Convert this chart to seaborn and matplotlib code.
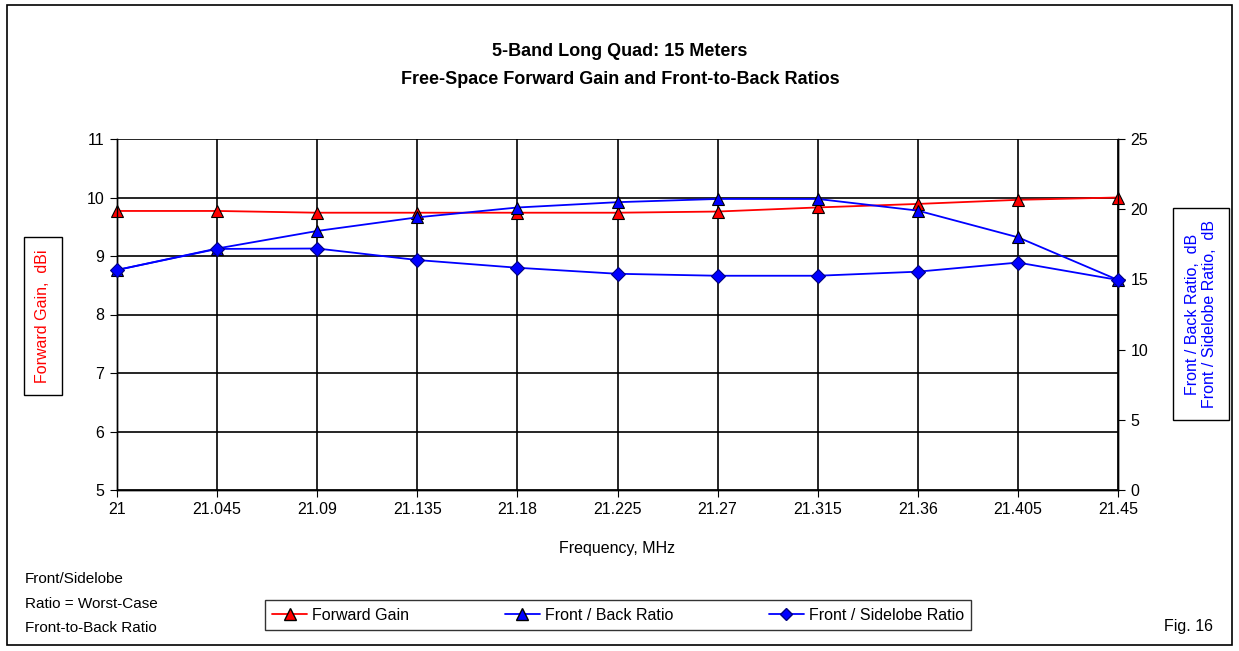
import matplotlib
matplotlib.use("Agg")
import matplotlib.pyplot as plt
import seaborn as sns
import pandas as pd
from matplotlib.patches import Rectangle
from matplotlib.lines import Line2D

freq_labels = ["21", "21.045", "21.09", "21.135", "21.18", "21.225",
               "21.27", "21.315", "21.36", "21.405", "21.45"]
forward_gain = [9.77, 9.77, 9.74, 9.74, 9.74, 9.74, 9.76, 9.83, 9.89, 9.96, 10.0]
front_back = [15.67, 17.2, 18.45, 19.42, 20.12, 20.5, 20.73, 20.73, 19.9, 18.0, 14.96]
front_side = [15.67, 17.17, 17.2, 16.38, 15.83, 15.4, 15.26, 15.26, 15.55, 16.2, 14.96]

sns.set_style("white")
plt.rcParams['font.family'] = ['Liberation Sans', 'DejaVu Sans']
plt.rcParams['text.color'] = 'black'

freqs = [float(f) for f in freq_labels]
df = pd.DataFrame({"freq": freqs, "fg": forward_gain, "fb": front_back, "fs": front_side})

fig = plt.figure(figsize=(12.39, 6.51), dpi=100)
fig.patch.set_facecolor("white")
fig.add_artist(Rectangle((7/1239, 1 - 645/651), 1225/1239, 640/651, transform=fig.transFigure,
                         fill=False, edgecolor="black", linewidth=1.2))

ax = fig.add_axes([117/1239, 1 - 490/651, (1118-117)/1239, (490-139)/651])
ax2 = ax.twinx()

sns.lineplot(data=df, x="freq", y="fg", ax=ax, color="red", linewidth=1.3,
             marker="^", markersize=9, markerfacecolor="red", markeredgecolor="black",
             markeredgewidth=0.8, zorder=5, clip_on=False)
sns.lineplot(data=df, x="freq", y="fb", ax=ax2, color="blue", linewidth=1.3,
             marker="^", markersize=9, markerfacecolor="blue", markeredgecolor="black",
             markeredgewidth=0.8, zorder=5, clip_on=False)
sns.lineplot(data=df, x="freq", y="fs", ax=ax2, color="blue", linewidth=1.3,
             marker="D", markersize=7, markerfacecolor="blue", markeredgecolor="navy",
             markeredgewidth=0.8, zorder=5, clip_on=False)

ax.set_xlim(freqs[0], freqs[-1])
ax.set_ylim(5, 11)
ax2.set_ylim(0, 25)
ax.set_xticks(freqs)
ax.set_xticklabels(freq_labels)
ax.set_yticks(range(5, 12))
ax2.set_yticks(range(0, 26, 5))
ax.grid(True, color="black", linewidth=1.2)
ax2.grid(False)
for a in (ax, ax2):
    for s in a.spines.values():
        s.set_color("black")
        s.set_linewidth(1.0)
    a.set_xlabel("")
    a.set_ylabel("")
ax.spines["top"].set_visible(False)
ax2.spines["top"].set_visible(False)
ax.tick_params(axis="both", which="both", direction="out", length=5, labelsize=11.5,
               colors="black", labelcolor="black", left=True, bottom=True, pad=4)
ax2.tick_params(axis="y", direction="out", length=5, labelsize=11.5, colors="black",
                labelcolor="black", right=True, pad=4)
ax.set_axisbelow(True)

fig.text(620/1239, 1 - 52/651, "5-Band Long Quad: 15 Meters", ha="center", va="center",
         fontsize=13, fontweight="bold", color="black")
fig.text(620/1239, 1 - 80/651, "Free-Space Forward Gain and Front-to-Back Ratios", ha="center",
         va="center", fontsize=13, fontweight="bold", color="black")
fig.text(617/1239, 1 - 549/651, "Frequency, MHz", ha="center", va="center", fontsize=11.5,
         color="black")

fig.text(43/1239, 1 - 316/651, "Forward Gain,  dBi", rotation=90, ha="center", va="center",
         fontsize=11.5, color="red",
         bbox=dict(boxstyle="square,pad=0.75", facecolor="white", edgecolor="black", linewidth=1))
fig.text(1201/1239, 1 - 314/651, "Front / Back Ratio,  dB\nFront / Sidelobe Ratio,  dB",
         rotation=90, ha="center", va="center", fontsize=11.5, color="blue", linespacing=1.1,
         bbox=dict(boxstyle="square,pad=0.75", facecolor="white", edgecolor="black", linewidth=1))

for yy, t in [(579, "Front/Sidelobe"), (604, "Ratio = Worst-Case"), (628, "Front-to-Back Ratio")]:
    fig.text(25/1239, 1 - yy/651, t, ha="left", va="center", fontsize=11, color="black")
fig.text(1213/1239, 1 - 626/651, "Fig. 16", ha="right", va="center", fontsize=11.5, color="black")

handles = [
    Line2D([], [], color="red", marker="^", markersize=8, markerfacecolor="red",
           markeredgecolor="black", linewidth=1.3),
    Line2D([], [], color="blue", marker="^", markersize=8, markerfacecolor="blue",
           markeredgecolor="black", linewidth=1.3),
    Line2D([], [], color="blue", marker="D", markersize=6, markerfacecolor="blue",
           markeredgecolor="navy", linewidth=1.3),
]
leg = fig.legend(handles, ["Forward Gain", "Front / Back Ratio", "Front / Sidelobe Ratio"],
                 loc="center", bbox_to_anchor=(618/1239, 1 - 615/651), ncol=3, fontsize=11.5,
                 frameon=True, fancybox=False, edgecolor="black", handlelength=2.2,
                 columnspacing=6.0, handletextpad=0.3, borderpad=0.45)
leg.get_frame().set_linewidth(1.0)
for t in leg.get_texts():
    t.set_color("black")

fig.savefig("out.png", dpi=100, facecolor="white")
